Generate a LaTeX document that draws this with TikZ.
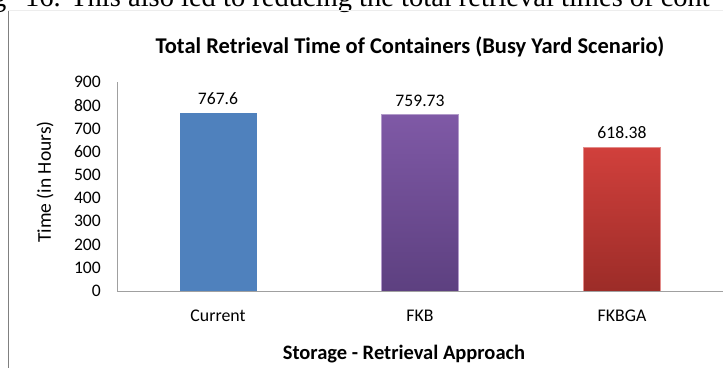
\documentclass[tikz,border=0pt]{standalone}
\usepackage{fontspec}
\setmainfont{Carlito}
\newfontfamily\bodyserif{Liberation Serif}
\definecolor{axisgray}{HTML}{A0A0A0}
\definecolor{framegray}{HTML}{808080}
\definecolor{barblue}{HTML}{4F81BD}
\definecolor{purpletop}{HTML}{7F59A6}
\definecolor{purplebot}{HTML}{5D4080}
\definecolor{redtop}{HTML}{D1403C}
\definecolor{redbot}{HTML}{9C2C28}
\begin{document}
\begin{tikzpicture}[x=1pt,y=-1pt,
  axisline/.style={draw=axisgray, line width=1pt},
  barbox/.style={inner sep=0pt, minimum width=77pt, anchor=south},
  ticklab/.style={anchor=east, inner sep=0pt, font=\fontsize{17.6}{20}\selectfont},
  vallab/.style={anchor=base, inner sep=0pt, font=\fontsize{17.6}{20}\selectfont},
  catlab/.style={anchor=base, inner sep=0pt, font=\fontsize{17.8}{20}\selectfont},
  titlelab/.style={anchor=base, inner sep=0pt, font=\bfseries\fontsize{22.5}{25}\selectfont},
  bodylab/.style={anchor=base west, inner sep=0pt, font=\bodyserif\fontsize{28.5}{30}\selectfont}]
\useasboundingbox (0,0) rectangle (723,368);
\fill[white] (0,0) rectangle (723,368);
% running text of the page above the figure
\node[bodylab] (bodyg) at (-8,6.5) {g};
\node[bodylab] (bodytext) at (25,6.5) {16. This also led to reducing the total retrieval times of cont};
% frame lines
\coordinate (frametl) at (8,10);
\coordinate (framebl) at (8,368);
\coordinate (frametr) at (723,10);
\draw[framegray, line width=0.8pt] (frametl) -- (framebl);
\draw[black!7, line width=0.6pt] (frametl) -- (frametr);
% title
\node[titlelab] (title) at (410,53) {Total Retrieval Time of Containers (Busy Yard Scenario)};
% axes
\coordinate (origin) at (117,291);
\coordinate (ytop) at (117,82);
\coordinate (xend) at (723,291);
% bars
\node[barbox, fill=barblue, minimum height=178.2pt] (barA) at (218,291) {};
\node[barbox, top color=purpletop, bottom color=purplebot, draw=purpletop!60!white, line width=0.5pt, minimum height=176.4pt] (barB) at (420,291) {};
\node[barbox, top color=redtop, bottom color=redbot, draw=redtop!60!white, line width=0.5pt, minimum height=143.6pt] (barC) at (622,291) {};
\draw[axisline] (ytop) -- (origin) -- (xend);
% tick labels
\foreach \v in {0,100,...,900}{
  \node[ticklab] (tick\v) at (101,{291-\v*0.2322}) {\v};
}
% value labels
\node[vallab] (valA) at ([yshift=8pt]barA.north) {767.6};
\node[vallab] (valB) at ([yshift=8pt]barB.north) {759.73};
\node[vallab] (valC) at ([yshift=8pt]barC.north) {618.38};
% category labels
\node[catlab] (catA) at (218,321) {Current};
\node[catlab] (catB) at (420,321) {FKB};
\node[catlab] (catC) at (622,321) {FKBGA};
% axis titles
\node[titlelab, font=\bfseries\fontsize{20.5}{23}\selectfont] (xtitle) at (404,359) {Storage - Retrieval Approach};
\node[rotate=90, inner sep=0pt, font=\fontsize{19.5}{22}\selectfont] (ytitle) at (45,182) {Time (in Hours)};
\end{tikzpicture}
\end{document}
